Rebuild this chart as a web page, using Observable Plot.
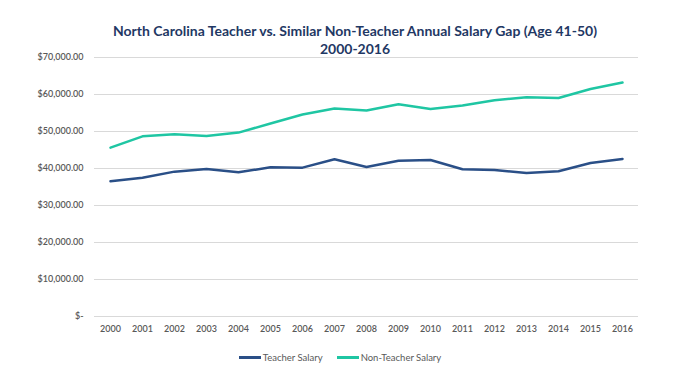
<!DOCTYPE html>
<html>
<head>
<meta charset="utf-8">
<script src="https://cdn.jsdelivr.net/npm/d3@7"></script>
<script src="https://cdn.jsdelivr.net/npm/@observablehq/plot@0.6"></script>
<style>
  html, body { margin: 0; padding: 0; background: #fff; }
  #wrap { position: relative; width: 676px; height: 374px; font-family: Lato, "Open Sans", sans-serif; }
  #title { position: absolute; left: 17px; top: 22px; width: 676px; text-align: center; color: #1f3864; font-weight: bold; font-size: 14px; line-height: 18px; }
  #legend { position: absolute; left: 2px; top: 352px; width: 676px; display: flex; justify-content: center; gap: 14px; font-size: 9.5px; color: #595959; }
  .item { display: flex; align-items: center; }
  .sw { display: inline-block; width: 22px; height: 2.5px; margin-right: 2px; }
</style>
</head>
<body>
<div id="wrap">
  <div id="chart"></div>
  <div id="title">North Carolina Teacher vs. Similar Non-Teacher Annual Salary Gap (Age 41-50)<br>2000-2016</div>
  <div id="legend"></div>
</div>
<script>
const years = [2000,2001,2002,2003,2004,2005,2006,2007,2008,2009,2010,2011,2012,2013,2014,2015,2016];
const teacherSalary = [36530,37520,39150,39870,38970,40320,40230,42480,40400,42120,42300,39780,39600,38780,39240,41490,42570];
const nonTeacherSalary = [45650,48700,49250,48800,49700,52150,54580,56200,55650,57370,56100,57000,58450,59260,59070,61500,63230];
const yTicks = [0,10000,20000,30000,40000,50000,60000,70000];
const seriesNames = ["Teacher Salary", "Non-Teacher Salary"];
const seriesColors = ["#2a4f87", "#1fc6a3"];

const rows = [];
years.forEach((y, i) => {
  rows.push({year: y, value: teacherSalary[i], series: seriesNames[0]});
  rows.push({year: y, value: nonTeacherSalary[i], series: seriesNames[1]});
});

const fmt = v => v === 0 ? "$-" : "$" + d3.format(",.2f")(v);

const chart = Plot.plot({
  width: 676,
  height: 374,
  marginTop: 57,
  marginBottom: 58,
  marginLeft: 110,
  marginRight: 54,
  style: {fontFamily: "Lato, 'Open Sans', sans-serif", fontSize: "9px", color: "#595959", background: "transparent"},
  x: {domain: [2000, 2016], axis: null},
  y: {domain: [0, 70000], axis: null},
  color: {domain: seriesNames, range: seriesColors},
  marks: [
    Plot.ruleY(yTicks, {x1: 1999.5, x2: 2016.5, stroke: "#d9d9d9", strokeWidth: 1}),
    Plot.text(yTicks, {x: 1999.5, y: d => d, text: d => fmt(d), textAnchor: "end", dx: -11, fill: "#595959", fontSize: 9, fontWeight: 600}),
    Plot.text(years, {x: d => d, y: 0, text: d => String(d), dy: 13, fill: "#595959", fontSize: 9, fontWeight: 600}),
    Plot.line(rows, {x: "year", y: "value", z: "series", stroke: "series", strokeWidth: 2.5, curve: "linear"})
  ]
});
document.getElementById("chart").appendChild(chart);

const legend = document.getElementById("legend");
seriesNames.forEach((n, i) => {
  const it = document.createElement("div");
  it.className = "item";
  it.innerHTML = `<span class="sw" style="background:${seriesColors[i]}"></span><span>${n}</span>`;
  legend.appendChild(it);
});
</script>
</body>
</html>
